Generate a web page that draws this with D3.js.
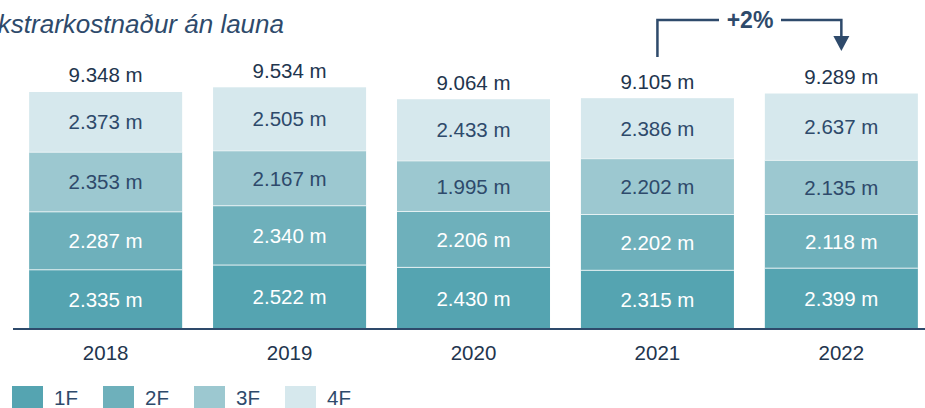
<!DOCTYPE html>
<html>
<head>
<meta charset="utf-8">
<script src="https://cdn.jsdelivr.net/npm/d3@7"></script>
<style>
  body { margin: 0; background: #fff; }
  svg { display: block; font-family: "Liberation Sans", Arial, sans-serif; }
</style>
</head>
<body>
<svg id="chart" width="925" height="408"></svg>
<script>
const years = ['2018', '2019', '2020', '2021', '2022'];
const floors = ['1F', '2F', '3F', '4F'];
const f1 = [2.335, 2.522, 2.430, 2.315, 2.399];
const f2 = [2.287, 2.340, 2.206, 2.202, 2.118];
const f3 = [2.353, 2.167, 1.995, 2.202, 2.135];
const f4 = [2.373, 2.505, 2.433, 2.386, 2.637];
const totals = [9.348, 9.534, 9.064, 9.105, 9.289];
const colors = ['#55a4b1', '#6eb0bb', '#9cc8d0', '#d6e8ed'];
const labelColors = ['#ffffff', '#ffffff', '#2e4a6b', '#2e4a6b'];

const fmt = v => v.toFixed(3) + ' m';
const dark = '#2e4a6b';
const fs = 20.5;

const svg = d3.select('#chart');

const x = d3.scaleBand()
    .domain(years)
    .range([13.5, 933.5])
    .paddingInner(0.168)
    .paddingOuter(0.085);

const y = d3.scaleLinear()
    .domain([0, 10])
    .range([329, 75.5]);

const rows = years.map((yr, i) => ({ year: yr, '1F': f1[i], '2F': f2[i], '3F': f3[i], '4F': f4[i] }));
const series = d3.stack().keys(floors)(rows);

const layers = svg.selectAll('g.layer')
    .data(series)
    .enter()
    .append('g')
    .attr('class', 'layer');

layers.selectAll('rect')
    .data(d => d)
    .enter()
    .append('rect')
    .attr('x', d => x(d.data.year))
    .attr('y', d => y(d[1]))
    .attr('width', x.bandwidth())
    .attr('height', d => y(d[0]) - y(d[1]))
    .attr('fill', function() { return colors[d3.select(this.parentNode).datum().index]; });

// thin separators between segments
layers.filter(s => s.index > 0).selectAll('line')
    .data(d => d)
    .enter()
    .append('line')
    .attr('x1', d => x(d.data.year))
    .attr('x2', d => x(d.data.year) + x.bandwidth())
    .attr('y1', d => y(d[0]))
    .attr('y2', d => y(d[0]))
    .attr('stroke', '#e6f1f3')
    .attr('stroke-width', 1);

layers.selectAll('text')
    .data(d => d)
    .enter()
    .append('text')
    .attr('x', d => x(d.data.year) + x.bandwidth() / 2)
    .attr('y', d => (y(d[0]) + y(d[1])) / 2)
    .attr('dy', '0.36em')
    .attr('text-anchor', 'middle')
    .attr('font-size', fs)
    .attr('fill', function() { return labelColors[d3.select(this.parentNode).datum().index]; })
    .text(d => fmt(d[1] - d[0]));

// totals
svg.selectAll('text.total')
    .data(years)
    .enter()
    .append('text')
    .attr('class', 'total')
    .attr('x', d => x(d) + x.bandwidth() / 2)
    .attr('y', (d, i) => y(totals[i]) - 17)
    .attr('dy', '0.36em')
    .attr('text-anchor', 'middle')
    .attr('font-size', fs)
    .attr('fill', '#22354e')
    .text((d, i) => fmt(totals[i]));

// baseline
svg.append('line')
    .attr('x1', 13).attr('x2', 925)
    .attr('y1', y(0)).attr('y2', y(0))
    .attr('stroke', dark)
    .attr('stroke-width', 2);

// year labels
svg.selectAll('text.year')
    .data(years)
    .enter()
    .append('text')
    .attr('class', 'year')
    .attr('x', d => x(d) + x.bandwidth() / 2)
    .attr('y', 353)
    .attr('dy', '0.36em')
    .attr('text-anchor', 'middle')
    .attr('font-size', fs)
    .attr('fill', '#22354e')
    .text(d => d);

// title (cut off at the left edge, as in the reference)
svg.append('text')
    .attr('x', 284)
    .attr('y', 33)
    .attr('text-anchor', 'end')
    .attr('font-size', 26)
    .attr('font-style', 'italic')
    .attr('fill', dark)
    .text('Rekstrarkostnaður án launa');

// +2% annotation
const ax0 = x('2021') + x.bandwidth() / 2;
const ax1 = x('2022') + x.bandwidth() / 2;
const ay = 20;
svg.append('path')
    .attr('d', `M${ax0},57 V${ay} H719`)
    .attr('fill', 'none').attr('stroke', dark).attr('stroke-width', 2.5);
svg.append('path')
    .attr('d', `M781,${ay} H${ax1} V40`)
    .attr('fill', 'none').attr('stroke', dark).attr('stroke-width', 2.5);
svg.append('path')
    .attr('d', `M${ax1 - 8},36 L${ax1 + 8},36 L${ax1},51 Z`)
    .attr('fill', dark);
svg.append('text')
    .attr('x', 750)
    .attr('y', ay)
    .attr('dy', '0.36em')
    .attr('text-anchor', 'middle')
    .attr('font-size', 23)
    .attr('font-weight', 'bold')
    .attr('fill', dark)
    .text('+2%');

// legend
const legend = svg.selectAll('g.legend')
    .data(floors)
    .enter()
    .append('g')
    .attr('class', 'legend')
    .attr('transform', (d, i) => `translate(${12 + i * 91},386)`);
legend.append('rect')
    .attr('width', 31).attr('height', 22)
    .attr('fill', (d, i) => colors[i]);
legend.append('text')
    .attr('x', 42).attr('y', 12)
    .attr('dy', '0.36em')
    .attr('font-size', fs)
    .attr('fill', dark)
    .text(d => d);
</script>
</body>
</html>
